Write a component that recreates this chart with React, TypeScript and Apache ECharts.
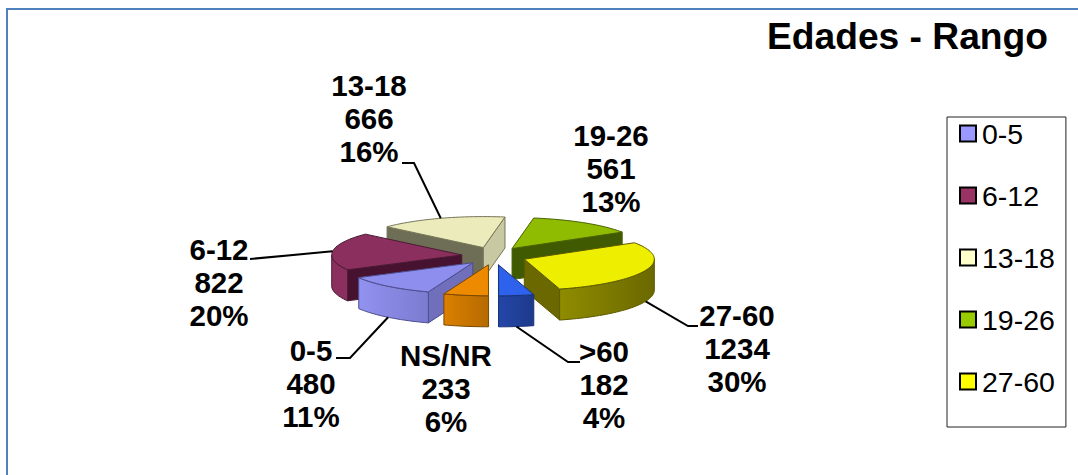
import React, { useEffect, useRef } from "react";
import * as echarts from "echarts";

const titleText = "Edades - Rango";
const categories = ["0-5", "6-12", "13-18", "19-26", "27-60", ">60", "NS/NR"];
const values = [480, 822, 666, 561, 1234, 182, 233];
const legendCategories = ["0-5", "6-12", "13-18", "19-26", "27-60"];

const legendColors = ["#9999ff", "#993366", "#ffffcc", "#99cc00", "#ffff00", "#3366ff", "#ff9900"];
const topColors = ["#8e8eee", "#8b2f5e", "#ecebbb", "#8fbb00", "#eeee00", "#2f62ec", "#ee8a00"];
const startWallColors = ["#6f6fbb", "#47122f", "#6e6e56", "#3f5a00", "#6b6800", "#1f3f9c", "#b86c00"];
const endWallColors = ["#6f6fbb", "#47122f", "#c8c8a2", "#3f5a00", "#6b6800", "#1f3f9c", "#b86c00"];
const arcWallStops = [
  ["#9292f0", "#7b7bd0"],
  ["#8b2f5e", "#8b2f5e"],
  ["#c8c8a2", "#c8c8a2"],
  ["#6f8f00", "#6f8f00"],
  ["#8f8c00", "#6b6800"],
  ["#2446a8", "#1d3a8a"],
  ["#dc8000", "#b56a00"],
];
const edgeColors = ["#4e4e90", "#4a1a33", "#77775a", "#4a6200", "#5c5a00", "#1a3378", "#7a4800"];

const labelCenters = [
  [311, 383],
  [219, 282],
  [369, 118],
  [611, 168],
  [737, 348],
  [604, 384],
  [446, 388],
];
const leaderElbows: number[][][] = [
  [[350, 358], [336, 358]],
  [[250, 259]],
  [[414, 163], [402, 163]],
  [],
  [[688, 326], [698, 326]],
  [[568, 362], [580, 362]],
  [],
];

const CX = 494;
const CY = 256;
const RX = 130;
const RY = 31;
const EXPLODE = 0.25;
const DEPTH = 31;
const FIRST_ANGLE = 110;

const total = values.reduce((a, b) => a + b, 0);
const rad = (d: number) => (d * Math.PI) / 180;

const slices = (() => {
  let a = FIRST_ANGLE;
  return values.map((v, i) => {
    const start = a;
    const end = a + (v / total) * 360;
    a = end;
    const mid = (start + end) / 2;
    return {
      i,
      start,
      end,
      mid,
      ax: CX + EXPLODE * RX * Math.cos(rad(mid)),
      ay: CY + EXPLODE * RY * 1.15 * Math.sin(rad(mid)),
    };
  });
})();

const arcPoint = (s: any, deg: number, dy = 0) => [
  s.ax + RX * Math.cos(rad(deg)),
  s.ay + RY * Math.sin(rad(deg)) + dy,
];

const arcPoints = (s: any, from: number, to: number, dy = 0) => {
  const pts: number[][] = [];
  const n = Math.max(2, Math.ceil((to - from) / 2));
  for (let k = 0; k <= n; k++) pts.push(arcPoint(s, from + ((to - from) * k) / n, dy));
  return pts;
};

const drawOrder = [...slices].sort((p, q) => p.ay - q.ay).map((s) => s.i);

const sliceElements = (i: number) => {
  const s = slices[i];
  const children: any[] = [];
  let z = 0;
  const poly = (points: number[][], fill: any) =>
    children.push({
      type: "polygon",
      shape: { points },
      z2: ++z,
      style: { fill, stroke: edgeColors[i], lineWidth: 1, lineJoin: "round" },
    });

  const wall = (deg: number, fill: string) => {
    const p = arcPoint(s, deg);
    poly([[s.ax, s.ay], p, [p[0], p[1] + DEPTH], [s.ax, s.ay + DEPTH]], fill);
  };
  if (-Math.cos(rad(s.start)) > 0) wall(s.start, startWallColors[i]);
  if (Math.cos(rad(s.end)) > 0) wall(s.end, endWallColors[i]);

  for (const offset of [0, 360]) {
    const from = Math.max(s.start, offset);
    const to = Math.min(s.end, offset + 180);
    if (to > from) {
      const top = arcPoints(s, from, to);
      const bottom = arcPoints(s, from, to, DEPTH).reverse();
      poly(
        [...top, ...bottom],
        new echarts.graphic.LinearGradient(0, 0, 1, 0, [
          { offset: 0, color: arcWallStops[i][0] },
          { offset: 1, color: arcWallStops[i][1] },
        ])
      );
    }
  }

  poly([[s.ax, s.ay], ...arcPoints(s, s.start, s.end)], topColors[i]);

  const elbows = leaderElbows[i];
  if (elbows.length) {
    const from = arcPoint(s, s.mid, Math.sin(rad(s.mid)) > 0 ? DEPTH : 0);
    children.push({
      type: "polyline",
      shape: { points: [from, ...elbows] },
      z2: ++z,
      style: { fill: "none", stroke: "#000", lineWidth: 2 },
    });
  }

  const pct = Math.round((values[i] / total) * 100);
  children.push({
    type: "text",
    x: labelCenters[i][0],
    y: labelCenters[i][1],
    z2: ++z,
    style: {
      text: `${categories[i]}\n${values[i]}\n${pct}%`,
      fill: "#000",
      fontFamily: "Liberation Sans",
      fontWeight: "bold",
      fontSize: 29.5,
      lineHeight: 33,
      align: "center",
      verticalAlign: "middle",
    },
  });
  return { type: "group", children };
};

const buildOption = () => ({
  animation: false,
  backgroundColor: "#ffffff",
  title: {
    text: titleText,
    right: 30,
    top: 17,
    padding: 0,
    textStyle: { fontFamily: "Liberation Sans", fontWeight: "bold", fontSize: 37.2, color: "#000" },
  },
  legend: {
    data: legendCategories,
    orient: "vertical",
    left: 947,
    top: 117,
    icon: "rect",
    itemWidth: 16,
    itemHeight: 16,
    itemGap: 33,
    selectedMode: false,
    padding: [2, 11, 31, 12],
    borderColor: "#222",
    borderWidth: 1,
    itemStyle: { borderColor: "#000", borderWidth: 2 },
    textStyle: { fontFamily: "Liberation Sans", fontSize: 28.5, color: "#000", padding: [0, 0, 0, 1] },
  },
  graphic: [
    { type: "rect", shape: { x: 6, y: 8, width: 2, height: 467 }, style: { fill: "#4f81bd" } },
    { type: "rect", shape: { x: 6, y: 8, width: 1072, height: 2 }, style: { fill: "#4f81bd" } },
  ],
  series: drawOrder.map((i, order) => ({
    type: "custom",
    name: categories[i],
    coordinateSystem: "none",
    z: 2 + order,
    silent: true,
    itemStyle: { color: legendColors[i] },
    data: [[values[i]]],
    renderItem: () => sliceElements(i),
  })),
});

export default function App() {
  const ref = useRef<HTMLDivElement>(null);
  useEffect(() => {
    document.body.style.margin = "0";
    const chart = echarts.init(ref.current!, undefined, { renderer: "svg" });
    chart.setOption(buildOption() as any);
    return () => chart.dispose();
  }, []);
  return <div ref={ref} style={{ width: 1078, height: 475 }} />;
}
